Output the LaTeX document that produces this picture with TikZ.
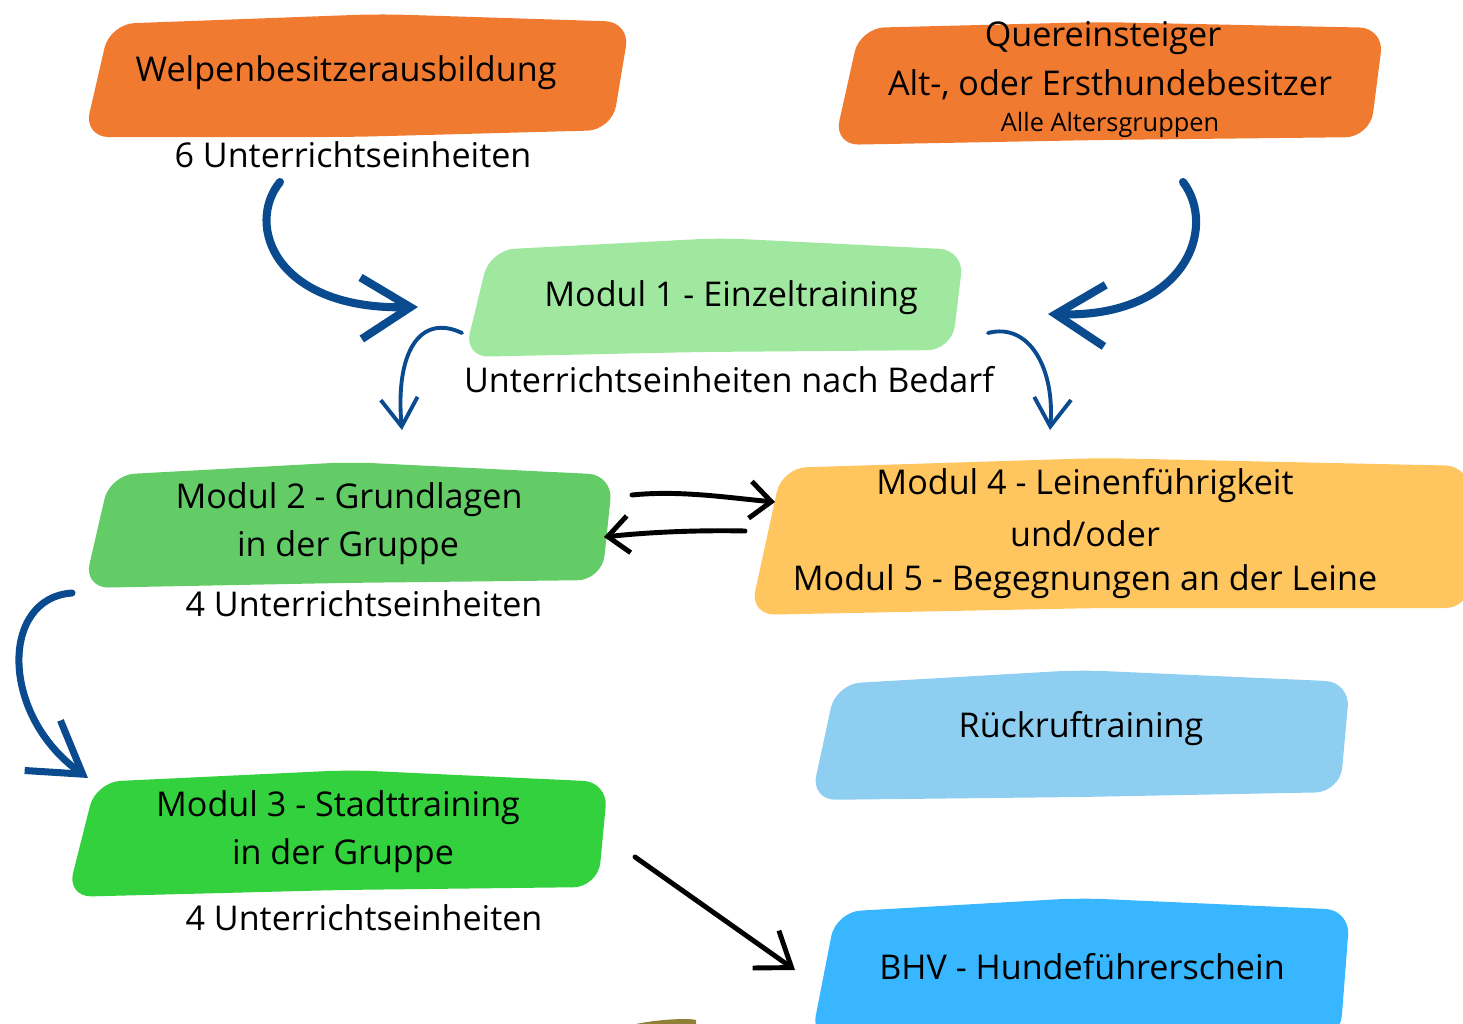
\documentclass[tikz,border=0pt]{standalone}
\usepackage{fontspec}
\setmainfont{Open Sans}
\usetikzlibrary{arrows.meta}

\definecolor{welpenorange}{RGB}{240,122,48}
\definecolor{einzelgreen}{RGB}{160,232,160}
\definecolor{grundgreen}{RGB}{99,204,102}
\definecolor{stadtgreen}{RGB}{51,209,61}
\definecolor{leinenyellow}{RGB}{255,197,94}
\definecolor{rueckblue}{RGB}{142,206,241}
\definecolor{bhvblue}{RGB}{56,182,255}
\definecolor{arrowblue}{RGB}{10,75,143}

\tikzset{
  blob/.style={rounded corners=7pt},
  label/.style={font=\fontsize{9.7}{12}\selectfont, inner sep=0pt},
  small/.style={font=\fontsize{7.2}{9}\selectfont, inner sep=0pt},
  bigarrow/.style={arrowblue, line width=2.3pt, line cap=round,
    -{Straight Barb[length=14pt, width=17.5pt]}},
  thinarrow/.style={arrowblue, line width=1.1pt, line cap=round,
    -{Straight Barb[length=8pt, width=10.5pt]}},
  blackarrow/.style={black, line width=1.4pt, line cap=round,
    -{Straight Barb[length=6pt, width=10.5pt]}}
}

\begin{document}
\begin{tikzpicture}[x=0.01cm, y=-0.01cm]
        \useasboundingbox (0,0) rectangle (1463,1024);

        % the coloured blobs
        \fill[welpenorange, blob] (110,24) -- (380,14) -- (630,22) -- (612,130) -- (350,137) -- (84,137) -- cycle;
        \fill[welpenorange, blob] (860,28) -- (1100,22) -- (1384,28) -- (1370,137) -- (1100,140) -- (834,145) -- cycle;
        \fill[einzelgreen, blob] (490,250) -- (720,238) -- (964,250) -- (952,350) -- (700,352) -- (464,357) -- cycle;
        \fill[grundgreen, blob] (110,475) -- (350,462) -- (613,475) -- (602,580) -- (340,583) -- (84,588) -- cycle;
        \fill[leinenyellow, blob] (782,468) -- (1100,458) -- (1470,466) -- (1470,608) -- (1100,608) -- (750,615) -- cycle;
        \fill[rueckblue, blob] (836,684) -- (1080,670) -- (1350,682) -- (1340,792) -- (1080,797) -- (811,800) -- cycle;
        \fill[stadtgreen, blob] (96,782) -- (350,770) -- (608,782) -- (598,887) -- (340,890) -- (67,897) -- cycle;
        \fill[bhvblue, blob] (836,912) -- (1080,898) -- (1350,910) -- (1340,1040) -- (811,1040) -- cycle;
        \fill[black!30!olive!60!brown] (636,1024) .. controls (660,1019) and (690,1018) .. (696,1020) -- (696,1024) -- cycle;

        % texts
        \node[label] (welpen) at (346,73) {Welpenbesitzerausbildung};
        \node[label] (welpenue) at (353,155) {6 Unterrichtseinheiten};
        \node[label] (quer) at (1103,38) {Quereinsteiger};
        \node[label] (queralt) at (1110,85) {Alt-, oder Ersthundebesitzer};
        \node[small] (queralter) at (1110,125) {Alle Altersgruppen};
        \node[label] (modeins) at (731,298) {Modul 1 - Einzeltraining};
        \node[label] (modeinsue) at (729,380) {Unterrichtseinheiten nach Bedarf};
        \node[label] (modzwei) at (349,500) {Modul 2 - Grundlagen};
        \node[label] (modzweib) at (348,548) {in der Gruppe};
        \node[label] (modzweiue) at (364,604) {4 Unterrichtseinheiten};
        \node[label] (modvier) at (1085,486) {Modul 4 - Leinenführigkeit};
        \node[label] (undoder) at (1085,534) {und/oder};
        \node[label] (modfuenf) at (1085,582) {Modul 5 - Begegnungen an der Leine};
        \node[label] (rueck) at (1081,729) {Rückruftraining};
        \node[label] (moddrei) at (338,808) {Modul 3 - Stadttraining};
        \node[label] (moddreib) at (343,856) {in der Gruppe};
        \node[label] (moddreiue) at (364,918) {4 Unterrichtseinheiten};
        \node[label] (bhv) at (1082,967) {BHV - Hundeführerschein};

        % arrow ends
        \coordinate (welpenout) at (280,182);
        \coordinate (eins_left) at (418,307);
        \coordinate (querout) at (1183,182);
        \coordinate (eins_right) at (1048,314);
        \coordinate (eins_dl) at (462,333);
        \coordinate (zwei_in) at (402,430);
        \coordinate (eins_dr) at (988,333);
        \coordinate (vier_in) at (1050,430);
        \coordinate (zwei_out) at (72,593);
        \coordinate (drei_in) at (88,778);
        \coordinate (zwei_r) at (632,495);
        \coordinate (vier_l) at (775,502);
        \coordinate (vier_back) at (745,531);
        \coordinate (zwei_back) at (604,537);
        \coordinate (drei_out) at (635,857);
        \coordinate (bhv_in) at (795,970);

        % arrows
        \draw[bigarrow] (welpenout) .. controls (245,225) and (275,310) .. (eins_left);
        \draw[bigarrow] (querout) .. controls (1218,228) and (1185,318) .. (eins_right);
        \draw[thinarrow] (eins_dl) .. controls (420,313) and (395,352) .. (zwei_in);
        \draw[thinarrow] (eins_dr) .. controls (1030,322) and (1055,370) .. (vier_in);
        \draw[bigarrow, line width=2pt] (zwei_out) .. controls (0,598) and (0,715) .. (drei_in);
        \draw[blackarrow] (zwei_r) .. controls (680,490) and (730,498) .. (vier_l);
        \draw[blackarrow] (vier_back) .. controls (700,530) and (650,532) .. (zwei_back);
        \draw[blackarrow, -{Straight Barb[length=9pt, width=13pt]}] (drei_out) -- (bhv_in);
    \end{tikzpicture}
\end{document}
